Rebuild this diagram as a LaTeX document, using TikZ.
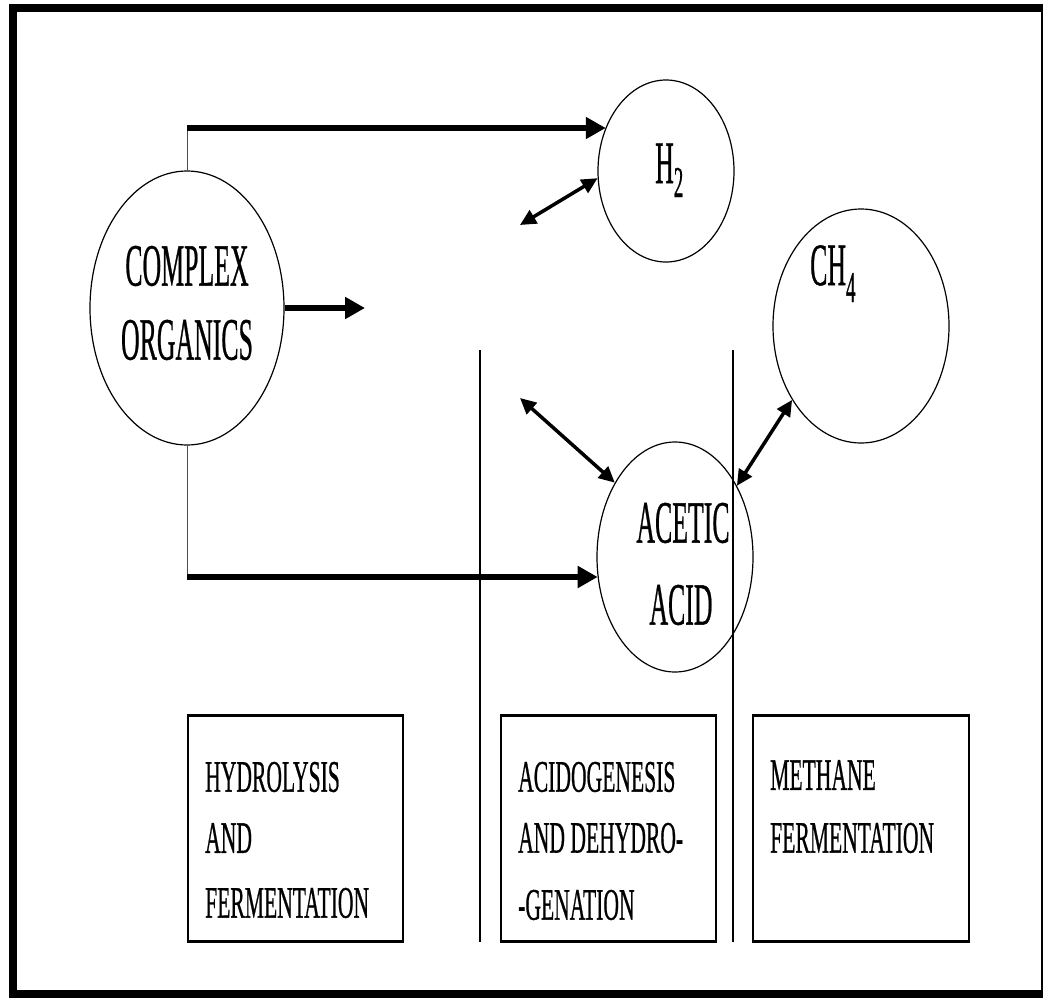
\documentclass[tikz,border=0pt]{standalone}
\usepackage{fontspec}
\setmainfont[FakeBold=0.9,AutoFakeBold=0.9]{Liberation Serif}
\usetikzlibrary{arrows.meta,shapes.geometric}
\newcommand{\bigtxt}[1]{\scalebox{0.43}[1]{\fontsize{60pt}{60pt}\selectfont\bfseries #1}}
\newcommand{\boxtxt}[1]{\scalebox{0.48}[1]{\fontsize{45pt}{45pt}\selectfont\bfseries #1}}
\begin{document}
\begin{tikzpicture}[x=1pt,y=-1pt,
  blob/.style={draw,ellipse,line width=1.2pt,inner sep=0pt},
  thickarrow/.style={line width=5.5pt,-{Triangle[length=20pt,width=21pt]}},
  dblarrow/.style={line width=3.5pt,{Triangle[length=16pt,width=15pt]}-{Triangle[length=16pt,width=15pt]}},
  thinline/.style={line width=1pt,draw=black!70},
  divider/.style={line width=1.2pt},
  stagebox/.style={draw,line width=1.5pt,minimum height=225pt,anchor=north west,inner sep=0pt},
  lbl/.style={inner sep=0pt,anchor=center},
  boxlbl/.style={inner sep=0pt,anchor=west}]
\useasboundingbox (0,0) rectangle (1044,998);
% frame
\fill[black] (9,4) rectangle (1043,12);
\fill[black] (9,4) rectangle (17,998);
\fill[black] (9,990) rectangle (1043,998);
\draw[line width=1.5pt] (1042,12) -- (1042,990);
% circles
\node[blob,minimum width=194pt,minimum height=274pt] (org) at (187,308) {};
\node[blob,minimum width=136pt,minimum height=182pt] (h2) at (666,171) {};
\node[blob,minimum width=176pt,minimum height=234pt] (ch4) at (861,326) {};
\node[blob,minimum width=156pt,minimum height=230pt] (acid) at (675,557) {};
% texts
\node[lbl] (orgt1) at (187,266) {\bigtxt{COMPLEX}};
\node[lbl] (orgt2) at (187,340) {\bigtxt{ORGANICS}};
\node[inner sep=0pt,anchor=base west] (h2t) at (655,183) {\bigtxt{H\raisebox{-14pt}{\fontsize{44pt}{44pt}\selectfont 2}}};
\node[inner sep=0pt,anchor=base west] (ch4t) at (810,285) {\bigtxt{CH\raisebox{-17pt}{\fontsize{44pt}{44pt}\selectfont 4}}};
\node[lbl] (acidt1) at (683,523) {\bigtxt{ACETIC}};
\node[lbl] (acidt2) at (681,605) {\bigtxt{ACID}};
% dividers
\coordinate (d1a) at (480,350); \coordinate (d1b) at (480,942);
\coordinate (d2a) at (733,350); \coordinate (d2b) at (733,942);
\draw[divider] (d1a) -- (d1b);
\draw[divider] (d2a) -- (d2b);
% stage boxes
\node[stagebox,minimum width=215pt] (b1) at (187,715) {};
\node[stagebox,minimum width=215pt] (b2) at (500,715) {};
\node[stagebox,minimum width=216pt] (b3) at (752,715) {};
\foreach \b in {b1,b2,b3}{
  \draw[line width=3pt] (\b.north west) -- (\b.north east);
  \draw[line width=3pt] (\b.south west) -- (\b.south east);
}
\node[boxlbl] (b1t1) at (205,777) {\boxtxt{HYDROLYSIS}};
\node[boxlbl] (b1t2) at (205,838) {\boxtxt{AND}};
\node[boxlbl] (b1t3) at (205,903) {\boxtxt{FERMENTATION}};
\node[boxlbl] (b2t1) at (518,777) {\boxtxt{ACIDOGENESIS}};
\node[boxlbl] (b2t2) at (518,838) {\boxtxt{AND DEHYDRO-}};
\node[boxlbl] (b2t3) at (518,905) {\boxtxt{-GENATION}};
\node[boxlbl] (b3t1) at (770,775) {\boxtxt{METHANE}};
\node[boxlbl] (b3t2) at (770,838) {\boxtxt{FERMENTATION}};
% arrows
\coordinate (topc) at (187,128);
\draw[thinline] (org.north) -- (topc);
\draw[thickarrow] (topc) -- (topc -| h2.144);
\coordinate (botc) at (187,577);
\draw[thinline] (org.south) -- (botc);
\draw[thickarrow] (botc) -- (botc -| acid.195);
\coordinate (midc) at (365,308);
\draw[thickarrow] (org.east) -- (midc);
\coordinate (h2free) at (520,225);
\draw[dblarrow] (h2free) -- (h2.186);
\coordinate (acfree) at (520,398);
\draw[dblarrow] (acfree) -- (acid.129);
\draw[dblarrow] (acid.49) -- (ch4.227);
\end{tikzpicture}
\end{document}
